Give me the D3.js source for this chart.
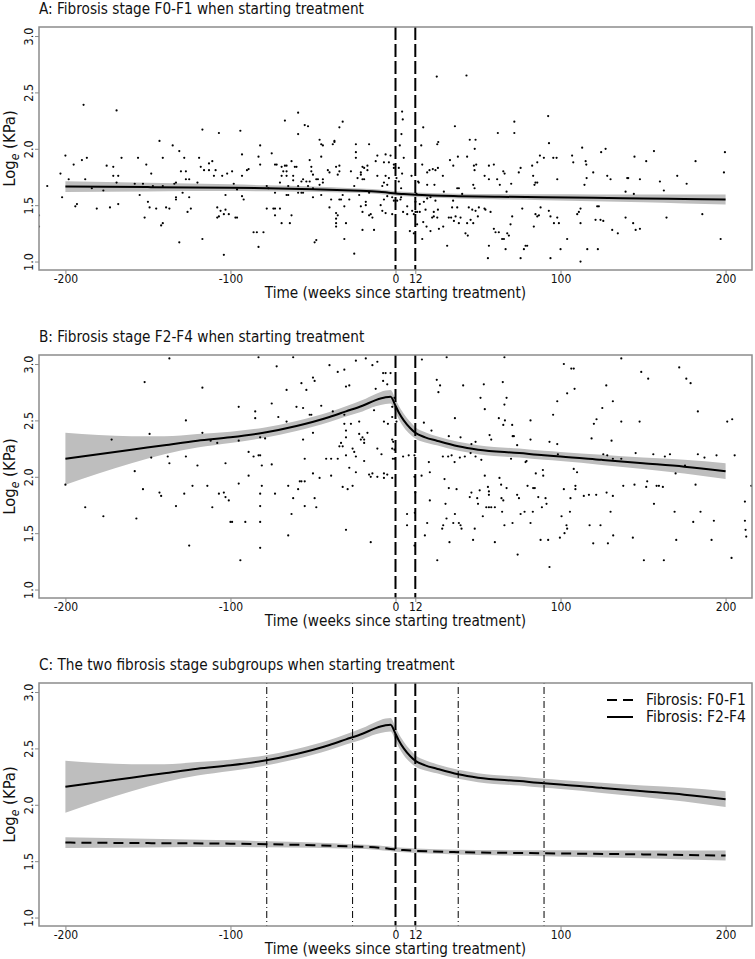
<!DOCTYPE html>
<html>
<head>
<meta charset="utf-8">
<script src="https://cdn.jsdelivr.net/npm/d3@7"></script>
<style>
body { margin: 0; background: #fff; }
svg { display: block; font-family: "DejaVu Sans Condensed", "DejaVu Sans", sans-serif; }
</style>
</head>
<body>
<svg id="chart"></svg>
<script>
// DATA

const panelTitles = [
    'A: Fibrosis stage F0-F1 when starting treatment',
    'B: Fibrosis stage F2-F4 when starting treatment',
    'C: The two fibrosis stage subgroups when starting treatment'
];
const xLabel = 'Time (weeks since starting treatment)';
const xTicks = [-200, -100, 0, 12, 100, 200];
const yTicks = [1.0, 1.5, 2.0, 2.5, 3.0];
const legendLabels = ['Fibrosis: F0-F1', 'Fibrosis: F2-F4'];
const switchWeeks = [0, 12];
const windowWeeks = [-78, -26, 38, 90];

// fitted curves (week, fitted log kPa, half width of the band)
const f01Weeks = [-200, -150, -100, -78, -50, -26, -10, -5, 0, 5, 12, 38, 60, 90, 120, 150, 175, 200];
const f01Fit   = [1.665, 1.66, 1.655, 1.65, 1.642, 1.63, 1.62, 1.612, 1.603, 1.598, 1.592, 1.58, 1.575, 1.57, 1.565, 1.56, 1.555, 1.55];
const f01Half  = [0.048, 0.038, 0.03, 0.027, 0.024, 0.021, 0.02, 0.02, 0.02, 0.02, 0.02, 0.021, 0.023, 0.026, 0.03, 0.035, 0.04, 0.045];

const f24Weeks = [-200, -180, -160, -140, -120, -100, -80, -60, -40, -30, -20, -12, -6, -3, 0, 2, 5, 9, 12, 18, 25, 38, 50, 75, 90, 100, 125, 150, 175, 200];
const f24Fit   = [2.16, 2.20, 2.24, 2.28, 2.32, 2.35, 2.39, 2.45, 2.53, 2.58, 2.63, 2.68, 2.705, 2.71, 2.63, 2.57, 2.50, 2.43, 2.39, 2.35, 2.32, 2.27, 2.24, 2.21, 2.19, 2.18, 2.15, 2.12, 2.09, 2.05];
const f24Half  = [0.23, 0.17, 0.12, 0.08, 0.06, 0.05, 0.045, 0.045, 0.045, 0.045, 0.05, 0.055, 0.06, 0.06, 0.06, 0.06, 0.06, 0.055, 0.05, 0.045, 0.04, 0.04, 0.04, 0.04, 0.04, 0.04, 0.045, 0.05, 0.06, 0.07];

// observed measurements [week, log kPa]
const scatterF01 = [
    [-216,1.41],[-216,1.31],[-211,1.67],[-203,1.78],[-202,1.57],[-200,1.94],[-198,1.73],[-195,1.86],[-194,1.49],[-193,1.51],
    [-190,1.90],[-189,2.39],[-188,1.73],[-187,1.92],[-184,1.65],[-181,1.47],[-177,1.63],[-175,1.85],[-173,1.48],[-171,1.84],
    [-171,1.76],[-169,1.70],[-169,2.34],[-168,1.76],[-168,1.51],[-166,1.92],[-158,1.69],[-156,1.92],[-155,1.59],[-153,1.69],
    [-152,1.39],[-151,1.86],[-150,1.53],[-149,1.48],[-148,1.78],[-147,1.67],[-145,1.47],[-143,2.07],[-142,1.32],[-141,1.34],
    [-141,1.92],[-141,1.67],[-139,1.48],[-137,1.47],[-135,2.03],[-134,1.69],[-133,1.70],[-133,1.57],[-133,1.55],[-131,1.17],
    [-131,1.98],[-130,1.80],[-129,1.61],[-128,1.92],[-127,1.73],[-127,1.80],[-126,1.44],[-125,1.57],[-125,1.73],[-124,1.47],
    [-120,1.70],[-119,1.92],[-118,1.84],[-117,2.17],[-117,1.20],[-116,1.81],[-113,1.87],[-113,1.81],[-111,1.89],[-110,1.76],
    [-109,1.81],[-108,1.48],[-108,1.39],[-107,2.14],[-107,1.40],[-106,1.45],[-105,1.76],[-104,1.06],[-104,1.42],[-103,1.46],
    [-103,1.59],[-102,1.78],[-101,1.42],[-99,1.80],[-98,1.69],[-97,1.39],[-96,1.39],[-96,1.64],[-94,2.16],[-93,1.76],
    [-93,1.95],[-93,1.58],[-92,1.55],[-90,1.81],[-89,1.82],[-86,1.26],[-84,1.26],[-83,1.93],[-82,1.86],[-83,1.13],
    [-82,2.03],[-80,1.26],[-78,1.47],[-78,1.67],[-77,1.65],[-75,1.96],[-74,1.47],[-73,1.41],[-73,1.47],[-73,1.86],
    [-72,1.86],[-73,1.61],[-70,1.70],[-69,1.76],[-70,1.47],[-69,1.34],[-69,1.84],[-68,1.80],[-67,2.25],[-67,1.85],
    [-66,1.85],[-66,1.80],[-66,1.76],[-66,1.59],[-65,1.67],[-65,1.59],[-64,1.34],[-63,1.41],[-63,1.89],[-62,1.76],
    [-62,1.72],[-61,1.84],[-60,1.84],[-59,2.32],[-59,2.13],[-59,1.67],[-59,1.61],[-57,1.71],[-57,1.61],[-56,1.61],
    [-56,1.73],[-55,2.21],[-53,2.20],[-54,1.71],[-53,1.67],[-52,1.71],[-52,1.90],[-51,1.84],[-51,1.80],[-50,1.77],
    [-50,1.65],[-50,1.57],[-49,1.17],[-48,1.19],[-48,1.73],[-47,1.73],[-46,1.68],[-46,2.08],[-45,2.04],[-44,2.03],
    [-45,1.93],[-45,1.59],[-44,1.73],[-44,1.70],[-41,1.81],[-40,1.79],[-40,1.48],[-39,1.55],[-38,2.04],[-37,2.06],
    [-36,1.84],[-37,2.07],[-36,1.38],[-36,1.43],[-36,1.34],[-36,1.31],[-35,1.41],[-35,1.77],[-34,1.80],[-34,1.85],
    [-34,2.19],[-32,2.24],[-34,1.55],[-33,1.55],[-32,1.59],[-31,1.49],[-31,1.20],[-30,1.34],[-28,1.55],[-27,1.80],
    [-25,1.67],[-25,1.07],[-24,2.04],[-24,1.97],[-24,1.92],[-23,1.74],[-22,1.59],[-21,1.79],[-21,1.77],[-20,1.73],
    [-21,1.49],[-20,1.44],[-20,1.28],[-20,1.84],[-19,1.83],[-19,1.73],[-18,1.53],[-18,1.50],[-17,1.85],[-17,1.81],
    [-16,1.41],[-15,1.42],[-14,1.39],[-13,1.28],[-16,2.04],[-16,1.61],[-12,1.89],[-11,1.94],[-11,1.76],
    [25,2.64],[43,2.65],[4,2.33],[4.4,2.26],[3.6,2.13],[2.6,2.03],[16.8,2.19],[36,2.20],[72,2.24],[72,2.14],
    [62,2.14],[92.5,2.29],[93,2.05],[45,2.08],[48.5,2.08],[48,2.00],[15.6,2.03],[-6,1.95],[-3,1.94],[5,1.92],
    [-7,1.88],[-4,1.88],[-1,1.86],[-1,1.83],[2,1.83],[4,1.78],[-6,1.76],[-4,1.74],[0.6,1.74],[-7,1.70],
    [-5,1.68],[-8,1.67],[2,1.71],[3.4,1.65],[9.7,1.76],[13.7,1.71],[14.1,1.70],[16.2,1.86],[19.2,1.79],[20.6,1.81],
    [22.6,1.82],[24.2,1.81],[25.3,2.04],[25.9,2.06],[25.7,1.83],[28.7,1.76],[23.6,1.68],[19.2,1.68],[29.3,1.62],[33,1.90],
    [35,1.85],[37.4,1.65],[38.4,1.65],[37.8,1.93],[43.4,1.93],[47.5,1.85],[47.9,1.81],[47.1,1.68],[47.9,1.65],[48.9,1.86],
    [54,1.76],[56.6,1.85],[59.6,1.86],[56.6,1.73],[61.6,1.73],[65.3,1.80],[66.1,1.78],[63.2,1.68],[67.3,1.62],[70.1,1.69],
    [74.7,1.79],[75.8,1.83],[82.8,1.85],[85.9,1.88],[87.5,1.94],[83.4,1.76],[84.2,1.68],[84.8,1.70],[85.9,1.70],[89.9,1.92],
    [95.6,1.92],[97.6,1.92],[98,1.73],[107,1.94],[107.7,1.88],[113.1,2.01],[115.2,1.89],[115.6,1.86],[114.5,1.68],[115.8,1.74],
    [119.8,1.79],[124.6,1.97],[127.3,2.00],[128.3,1.76],[130.3,1.73],[140.4,1.74],[141,1.74],[139.4,1.62],[144.4,1.60],[144.8,1.93],
    [148.1,1.73],[151.9,1.89],[156.6,1.98],[160.2,1.71],[162.6,1.63],[170.7,1.76],[176.4,1.69],[181.8,1.89],[199,1.79],[199.6,1.97],
    [-9,1.50],[-7,1.55],[-5,1.58],[-2,1.57],[-1,1.54],[1,1.54],[3,1.55],[3.4,1.57],[-8,1.45],[-6,1.43],
    [-2,1.42],[4.6,1.44],[7.1,1.49],[7.1,1.42],[10.1,1.45],[11.1,1.42],[12.1,1.44],[13.1,1.44],[14.7,1.44],[13.1,1.33],
    [14.7,1.51],[8.7,1.27],[11.1,1.25],[16.2,1.20],[12.1,1.53],[12.7,1.60],[17.2,1.53],[18.2,1.46],[19.2,1.56],[21.2,1.57],
    [16.8,1.35],[18.8,1.31],[21.2,1.27],[22.2,1.39],[23.2,1.44],[24.2,1.54],[25.7,1.46],[26.3,1.29],[23.2,1.40],[25.3,1.39],
    [28.9,1.31],[31.3,1.14],[32.3,1.39],[33.7,1.39],[34.3,1.48],[34.9,1.54],[35.4,1.36],[36.4,1.40],[37.4,1.48],[38.4,1.34],
    [39.4,1.39],[40.4,1.60],[42.4,1.25],[43.4,1.34],[43.8,1.23],[44.4,1.48],[45.5,1.37],[46.5,1.46],[47.1,1.34],[48.5,1.45],
    [50.5,1.48],[49.9,1.40],[53.9,1.47],[54.5,1.46],[56.6,1.14],[56,1.03],[57.6,1.44],[59.6,1.29],[60.6,1.26],[62.6,1.26],
    [64.6,1.20],[65.7,1.20],[66.7,1.11],[67.7,1.25],[68.7,1.23],[69.7,1.33],[70.7,1.40],[76.8,1.47],[75.8,1.03],[77.8,1.11],
    [78.8,1.14],[79.8,1.14],[83.8,1.31],[84.8,1.42],[85.9,1.40],[86.9,1.41],[87.9,1.48],[92.9,1.45],[93.9,1.03],[93.9,1.40],
    [96,1.34],[98,1.39],[99,1.34],[100,1.11],[104,1.20],[110.1,1.42],[111.1,1.44],[112.1,1.47],[112.1,1.34],[112.1,1.00],
    [116.2,1.11],[122.2,1.49],[123.2,1.49],[121.2,1.37],[122.6,1.11],[124.2,1.37],[125.9,1.36],[131.3,1.28],[134.7,1.25],[139.4,1.39],
    [144,1.34],[145.5,1.28],[148.1,1.29],[164.2,1.39],[185.9,1.42],[197,1.20]
];

const scatterF24 = [
    [-200,1.93],[-188,1.73],[-177,1.65],[-172,2.33],[-157,1.63],[-158,2.05],[-153,1.89],[-152,2.84],[-149,2.38],[-148,2.17],
    [-143,1.86],[-142,1.83],[-138,2.18],[-137,2.12],[-137,3.05],[-133,1.74],[-128,1.85],[-127,2.50],[-127,2.18],[-125,1.39],
    [-123,1.92],[-120,2.10],[-117,2.79],[-117,2.39],[-114,1.92],[-112,2.32],[-111,1.73],[-108,2.30],[-107,1.85],[-104,1.86],
    [-103,1.82],[-101,1.79],[-103,2.12],[-100,1.60],[-99,1.60],[-95,2.62],[-95,1.94],[-95,2.32],[-94,1.26],[-91,1.60],
    [-89,2.01],[-89,2.22],[-86,2.18],[-85,2.58],[-85,2.52],[-83,3.06],[-83,2.19],[-82,2.19],[-82,1.85],[-82,1.74],
    [-82,1.60],[-82,1.37],[-82,2.35],[-81,2.10],[-81,1.92],[-79,2.34],[-75,2.65],[-75,2.11],[-73,1.85],[-72,2.98],
    [-71,2.53],[-66,2.49],[-66,2.77],[-65,1.92],[-65,1.48],[-63,1.67],[-62,3.06],[-62,1.81],[-60,2.62],[-59,1.89],
    [-58,1.96],[-57,1.96],[-57,2.83],[-56,2.61],[-56,2.33],[-55,2.16],[-55,1.96],[-55,1.74],[-54,2.77],[-52,2.55],
    [-51,2.55],[-50,2.39],[-50,2.03],[-50,2.88],[-49,2.85],[-49,1.81],[-48,1.73],[-46,1.99],[-45,2.63],[-42,2.16],
    [-40,2.99],[-39,2.16],[-39,2.01],[-38,2.58],[-35,2.93],[-35,2.16],[-34,2.27],[-33,2.30],[-32,2.27],[-32,1.91],
    [-31,2.55],[-31,2.47],[-31,2.95],[-30,2.80],[-30,2.41],[-30,2.35],[-30,1.53],[-30,2.19],[-29,1.89],[-28,2.08],
    [-28,2.81],[-27,2.47],[-26,2.25],[-25,2.22],[-24,2.18],[-26,1.92],[-24,3.03],[-24,2.04],[-22,2.49],[-22,2.38],
    [-21,2.33],[-20,2.35],[-19,2.30],[-19,2.33],[-19,2.14],[-18,3.05],[-17,2.39],[-16,2.02],[-15,2.00],[-14,2.03],
    [-15,1.42],[-14,2.99],[-13,2.59],[-12,2.78],[-11,3.02],[-11,2.25],[-11,2.00],
    [-7.5,2.92],[-6,2.92],[-3,2.92],[-7.5,2.85],[-5,2.82],[-2,2.62],[-0.6,2.70],[-2,2.53],[-7,2.49],[-4.6,2.47],
    [0.6,2.49],[-2,2.33],[-1.4,2.31],[-8.5,2.20],[-2,2.25],[-0.6,2.24],[-1.6,2.16],[-0.6,2.16],[-7,2.03],[-7,1.99],
    [-5,2.02],[-2,1.99],[4.6,2.18],[8,2.19],[11.5,2.19],[7,1.67],[7,1.57],[12,1.86],[11.5,2.00],[11.7,1.68],[11.5,1.39],
    [16,3.04],[31,3.06],[66,3.06],[102,3.00],[106.5,2.96],[108,2.96],[25,2.86],[27,2.81],[26,2.75],[41,2.81],
    [53.5,2.82],[65,2.84],[51.5,2.70],[67.3,2.70],[54.1,2.60],[66,2.64],[36,2.52],[62.6,2.52],[66.3,2.50],[65.3,2.46],
    [70.7,2.46],[17.2,2.48],[21.8,2.41],[32.3,2.36],[39.4,2.35],[57,2.37],[58,2.33],[71,2.36],[71.7,2.36],[73.7,2.28],
    [81.8,2.50],[81.8,2.33],[95.5,2.55],[98,2.67],[104,2.74],[108.5,2.78],[93.3,2.31],[98,2.29],[46,2.29],[48.5,2.31],
    [98.4,2.20],[108,2.07],[110,2.04],[109,1.92],[109,1.89],[79.4,2.14],[78.8,2.13],[70,2.16],[52,2.15],[45.5,2.21],
    [48.5,2.18],[42,2.18],[39,2.17],[28.7,2.18],[31.9,2.18],[34,2.19],[35.8,2.13],[20.2,2.13],[20.8,2.04],[15.8,2.01],
    [29.7,1.98],[32.3,1.90],[37,1.89],[20.8,1.79],[30.3,1.76],[19.2,1.59],[17.8,1.48],[25.3,1.26],[28.9,1.57],[28.3,1.54],
    [30.9,1.63],[32.7,1.42],[35,1.59],[36,1.67],[38.4,1.59],[39.4,1.57],[40,1.54],[45,1.82],[46,1.86],[47,1.44],
    [48,1.54],[49.5,1.81],[51,1.88],[50,1.76],[52.9,1.65],[54.1,2.01],[56,1.91],[56.6,1.87],[56.6,1.84],[55,1.73],
    [56.6,1.73],[58,1.73],[60.2,1.73],[60.2,1.42],[63,1.99],[64,1.93],[64.2,1.81],[65.3,1.79],[64.6,1.69],[66,1.57],
    [67.3,1.90],[70.9,1.59],[73.7,1.84],[74.8,1.81],[74,1.31],[75.8,1.67],[78.2,1.69],[80,1.92],[81.8,1.59],[83.2,1.69],
    [83.4,1.90],[84.4,1.90],[85,2.03],[86.5,1.82],[87.9,1.44],[88.7,1.73],[89.3,2.06],[89.5,2.01],[90.9,1.81],[91.5,1.76],
    [92.5,1.44],[93.3,1.20],[99.6,1.46],[100.6,1.65],[102,1.89],[102.4,1.50],[103.6,1.57],[104,1.54],[105.7,1.69],[106,1.81],
    [136.8,3.05],[148.9,2.93],[153.1,2.87],[171.9,2.97],[176.2,2.87],[178.8,2.83],[127.7,2.81],[125.3,2.61],[131.7,2.67],[121.8,2.51],
    [120.2,2.47],[136.8,2.49],[147.9,2.49],[118.8,2.34],[130.9,2.32],[183.2,2.58],[201,2.49],[204,2.51],[205.5,2.19],[125.9,2.20],
    [128.3,2.19],[131.7,2.16],[136.8,2.16],[145.5,2.21],[156.2,2.20],[163.2,2.18],[166.3,2.20],[183.2,2.20],[187.2,2.17],[194.5,2.19],
    [175.4,2.10],[169.7,2.03],[181.8,1.93],[138,1.92],[144.8,1.93],[152.5,1.96],[151.9,1.91],[158.2,1.92],[159.6,1.92],[162,1.91],
    [215.6,1.92],[156.6,1.76],[169.1,1.69],[184.8,1.69],[180.4,1.60],[192.9,1.61],[211.7,1.78],[211.7,1.61],[212.1,1.53],[212.5,1.47],
    [143.8,1.46],[170.1,1.44],[191.5,1.44],[150.5,1.26],[162.6,1.26],[203.6,1.28],[114.1,1.83],[117.2,1.84],[121.6,1.84],[127.9,1.86],
    [131.7,1.83],[130.3,1.69],[131.9,1.48],[119.8,1.41],[128.7,1.41],[117.6,1.57],[124.2,1.57]
];

// LAYOUT

const width = 755;
const height = 959;
const plotLeft = 39;
const plotRight = 752;
const panelTops = [27, 355, 683];
const panelH = 243;
const boxColor = '#8c8c8c';
const bandColor = '#bebebe';
const fontFam = '"DejaVu Sans Condensed", "DejaVu Sans", sans-serif';

const svg = d3.select('#chart')
    .attr('width', width)
    .attr('height', height);

const x = d3.scaleLinear().domain([-216, 216]).range([plotLeft, plotRight]);

function zipCurve(weeks, fit, half) {
    return weeks.map((w, i) => ({w: w, v: fit[i], h: half[i]}));
}

const curveF01 = zipCurve(f01Weeks, f01Fit, f01Half);
const curveF24 = zipCurve(f24Weeks, f24Fit, f24Half);

function drawPanel(idx, opts) {
    const top = panelTops[idx];
    const y = d3.scaleLinear().domain([0.925, 3.08]).range([top + panelH, top]);
    const g = svg.append('g');

    g.append('clipPath').attr('id', 'clip' + idx)
        .append('rect')
        .attr('x', plotLeft).attr('y', top)
        .attr('width', plotRight - plotLeft).attr('height', panelH);

    const inner = g.append('g').attr('clip-path', 'url(#clip' + idx + ')');

    const band = d3.area()
        .x(d => x(d.w))
        .y0(d => y(d.v - d.h))
        .y1(d => y(d.v + d.h))
        .curve(d3.curveMonotoneX);
    const line = d3.line()
        .x(d => x(d.w))
        .y(d => y(d.v))
        .curve(d3.curveMonotoneX);

    opts.curves.forEach(function(c) {
        inner.append('path')
            .attr('d', band(c.data))
            .attr('fill', bandColor);
    });

    if (opts.points) {
        inner.selectAll('circle.obs')
            .data(opts.points)
            .join('circle')
            .attr('class', 'obs')
            .attr('cx', d => x(d[0]))
            .attr('cy', d => y(d[1]))
            .attr('r', 1.1)
            .attr('fill', '#000');
    }

    opts.curves.forEach(function(c) {
        inner.append('path')
            .attr('d', line(c.data))
            .attr('fill', 'none')
            .attr('stroke', '#000')
            .attr('stroke-width', 2)
            .attr('stroke-dasharray', c.dash || null);
    });

    if (opts.windows) {
        inner.selectAll('line.win')
            .data(windowWeeks)
            .join('line')
            .attr('class', 'win')
            .attr('x1', d => x(d)).attr('x2', d => x(d))
            .attr('y1', top).attr('y2', top + panelH)
            .attr('stroke', '#000')
            .attr('stroke-width', 1)
            .attr('stroke-dasharray', '1,3,7,3');
    }

    inner.selectAll('line.switch')
        .data(switchWeeks)
        .join('line')
        .attr('class', 'switch')
        .attr('x1', d => x(d)).attr('x2', d => x(d))
        .attr('y1', top).attr('y2', top + panelH)
        .attr('stroke', '#000')
        .attr('stroke-width', 2)
        .attr('stroke-dasharray', '13,4');

    // axes
    const xAxis = g.append('g')
        .attr('transform', `translate(0,${top + panelH})`)
        .call(d3.axisBottom(x).tickValues(xTicks).tickSize(4).tickPadding(0).tickFormat(d => String(d)));
    xAxis.select('.domain').remove();
    xAxis.selectAll('line').attr('stroke', boxColor);
    xAxis.selectAll('text').attr('font-size', 12).attr('fill', '#111')
        .attr('font-family', fontFam);

    const yAxis = g.append('g')
        .attr('transform', `translate(${plotLeft},0)`)
        .call(d3.axisLeft(y).tickValues(yTicks).tickSize(4).tickFormat(d3.format('.1f')));
    yAxis.select('.domain').remove();
    yAxis.selectAll('line').attr('stroke', boxColor);
    yAxis.selectAll('text')
        .attr('x', 0).attr('y', -6).attr('dy', 0)
        .attr('text-anchor', 'middle')
        .attr('transform', 'rotate(-90)')
        .attr('font-size', 12.5).attr('fill', '#111')
        .attr('font-family', fontFam);

    g.append('rect')
        .attr('x', plotLeft).attr('y', top)
        .attr('width', plotRight - plotLeft).attr('height', panelH)
        .attr('fill', 'none')
        .attr('stroke', boxColor)
        .attr('stroke-width', 1.5);

    // texts
    g.append('text')
        .attr('x', plotLeft).attr('y', top - 13)
        .attr('font-size', 15.2).attr('fill', '#111')
        .text(panelTitles[idx]);

    g.append('text')
        .attr('x', (plotLeft + plotRight) / 2).attr('y', top + panelH + 28)
        .attr('text-anchor', 'middle')
        .attr('font-size', 15.2).attr('fill', '#111')
        .text(xLabel);

    const yl = g.append('text')
        .attr('transform', `translate(15,${top + panelH / 2}) rotate(-90)`)
        .attr('text-anchor', 'middle')
        .attr('font-size', 16.5).attr('fill', '#111');
    yl.append('tspan').text('Log');
    yl.append('tspan').attr('font-style', 'italic').attr('font-size', 12).attr('dy', 4).text('e');
    yl.append('tspan').attr('dy', -4).text(' (KPa)');

    if (opts.legend) {
        const lg = g.append('g');
        const legendDash = ['10,6', null];
        legendLabels.forEach(function(lab, i) {
            const ly = top + 17 + i * 17;
            lg.append('line')
                .attr('x1', 607).attr('x2', 633)
                .attr('y1', ly).attr('y2', ly)
                .attr('stroke', '#000').attr('stroke-width', 2)
                .attr('stroke-dasharray', legendDash[i]);
            lg.append('text')
                .attr('x', 646).attr('y', ly)
                .attr('dy', '0.35em')
                .attr('font-size', 15.5).attr('fill', '#111')
                .text(lab);
        });
    }
}

drawPanel(0, {points: scatterF01, curves: [{data: curveF01}]});
drawPanel(1, {points: scatterF24, curves: [{data: curveF24}]});
drawPanel(2, {curves: [{data: curveF24}, {data: curveF01, dash: '10,6'}], windows: true, legend: true});
</script>
</body>
</html>
